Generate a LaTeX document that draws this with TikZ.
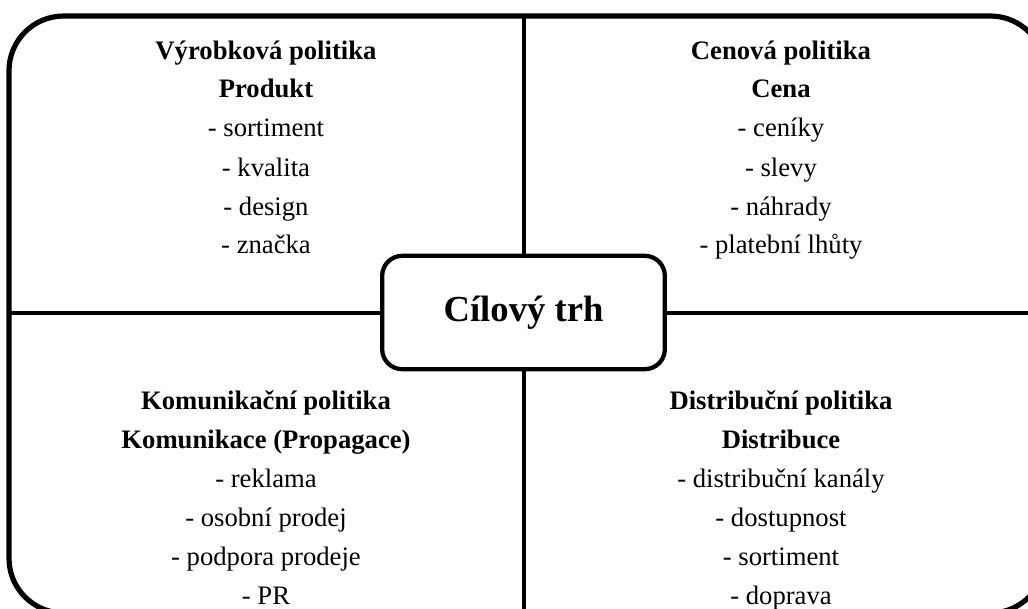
\documentclass[tikz,border=0pt]{standalone}
\usepackage{fontspec}
\setmainfont{Liberation Serif}

\tikzset{
  frame/.style={line width=3.9pt, rounded corners=41pt},
  divider/.style={line width=3pt},
  target/.style={draw, fill=white, line width=3.2pt, rounded corners=15pt,
    minimum width=212pt, minimum height=85pt,
    font=\fontsize{27.5}{33}\selectfont\bfseries},
  quadrant/.style={align=center, anchor=base, inner sep=0pt,
    font=\fontsize{20}{29.25}\selectfont}
}

\begin{document}
\begin{tikzpicture}[x=0.75pt, y=0.75pt]
  \clip (0,0) rectangle (1028,608);

  % Outer frame
  \draw[frame] (9,-5) rectangle (1045,592);
  \coordinate (top) at (523.5,592);
  \coordinate (bottom) at (523.5,-5);
  \coordinate (left) at (9,295.5);
  \coordinate (right) at (1045,295.5);

  % Centre
  \node[target] (market) at (523.5,295.5) {Cílový trh};

  % Dividers
  \draw[divider] (market.north) -- (top);
  \draw[divider] (market.south) -- (bottom);
  \draw[divider] (market.west) -- (left);
  \draw[divider] (market.east) -- (right);

  % Quadrants (anchored at the baseline of the last line)
  \node[quadrant] (product) at (266,354) {\textbf{Výrobková politika}\\ \textbf{Produkt}\\
    - sortiment\\ - kvalita\\ - design\\ - značka};
  \node[quadrant] (price) at (781,354) {\textbf{Cenová politika}\\ \textbf{Cena}\\
    - ceníky\\ - slevy\\ - náhrady\\ - platební lhůty};
  \node[quadrant] (promotion) at (266,4) {\textbf{Komunikační politika}\\ \textbf{Komunikace (Propagace)}\\
    - reklama\\ - osobní prodej\\ - podpora prodeje\\ - PR};
  \node[quadrant] (place) at (781,4) {\textbf{Distribuční politika}\\ \textbf{Distribuce}\\
    - distribuční kanály\\ - dostupnost\\ - sortiment\\ - doprava};

\end{tikzpicture}
\end{document}
